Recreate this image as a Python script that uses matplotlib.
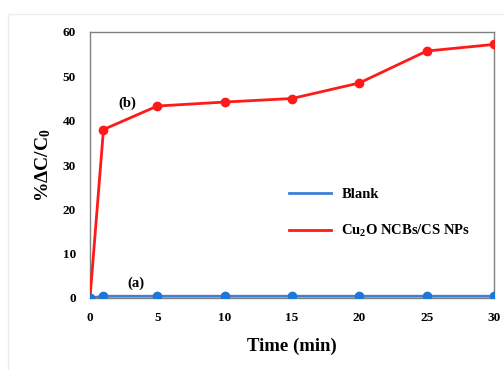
import matplotlib
matplotlib.use('Agg')
import matplotlib.pyplot as plt
from matplotlib.patches import Rectangle

time = [0, 1, 5, 10, 15, 20, 25, 30]
blank = [0, 0.4, 0.4, 0.4, 0.4, 0.4, 0.4, 0.4]
cu2o = [0, 38.0, 43.3, 44.2, 45.0, 48.5, 55.7, 57.2]

plt.rcParams['font.family'] = ['Liberation Serif', 'DejaVu Serif']
plt.rcParams['font.weight'] = 'bold'
plt.rcParams['mathtext.fontset'] = 'custom'
plt.rcParams['mathtext.rm'] = 'Liberation Serif:bold'
plt.rcParams['mathtext.bf'] = 'Liberation Serif:bold'
plt.rcParams['mathtext.default'] = 'bf'

fig = plt.figure(figsize=(5.04, 3.70), dpi=100)
fig.patches.append(Rectangle((8 / 504, -0.1), 1.2, 1 - 14 / 370 + 0.1,
                             transform=fig.transFigure, fill=False,
                             edgecolor='#ececec', linewidth=1))
ax = fig.add_axes([90 / 504, 1 - 298 / 370, 404 / 504, 266 / 370])

ax.plot(time, cu2o, color='#ff1a1a', lw=2, marker='o', ms=6,
        label='Cu$_2$O NCBs/CS NPs', zorder=3)
ax.plot(time, blank, color='#3f7fd6', lw=2, marker='o', ms=6,
        markerfacecolor='#1f77d4', markeredgecolor='#1f77d4',
        label='Blank', zorder=4)

ax.set_xlim(0, 30)
ax.set_ylim(0, 60)
ax.set_xticks([0, 5, 10, 15, 20, 25, 30])
ax.set_yticks(range(0, 61, 10))
ax.tick_params(length=0, labelsize=9.5)
ax.tick_params(axis='x', pad=10)
ax.tick_params(axis='y', pad=10)
for lab in ax.get_xticklabels() + ax.get_yticklabels():
    lab.set_fontweight('bold')
for s in ax.spines.values():
    s.set_color('#808080')
    s.set_linewidth(1)

ax.set_xlabel('Time (min)', fontsize=13.5, fontweight='bold', labelpad=10)
ax.set_ylabel('%ΔC/C$_0$', fontsize=14, fontweight='bold', labelpad=7)

ax.text(2.1, 44, '(b)', fontsize=10.5, fontweight='bold', va='center')
ax.text(2.75, 3.4, '(a)', fontsize=10.5, fontweight='bold', va='center')

h, l = ax.get_legend_handles_labels()
leg = ax.legend(h[::-1], l[::-1], loc='center left', bbox_to_anchor=(0.46, 0.318),
                frameon=False, handlelength=2.9, handletextpad=0.7, labelspacing=1.5,
                prop={'weight': 'bold', 'size': 10.5})
for line in leg.get_lines():
    line.set_marker('')
    line.set_linewidth(2)

fig.savefig('out.png', dpi=100)
